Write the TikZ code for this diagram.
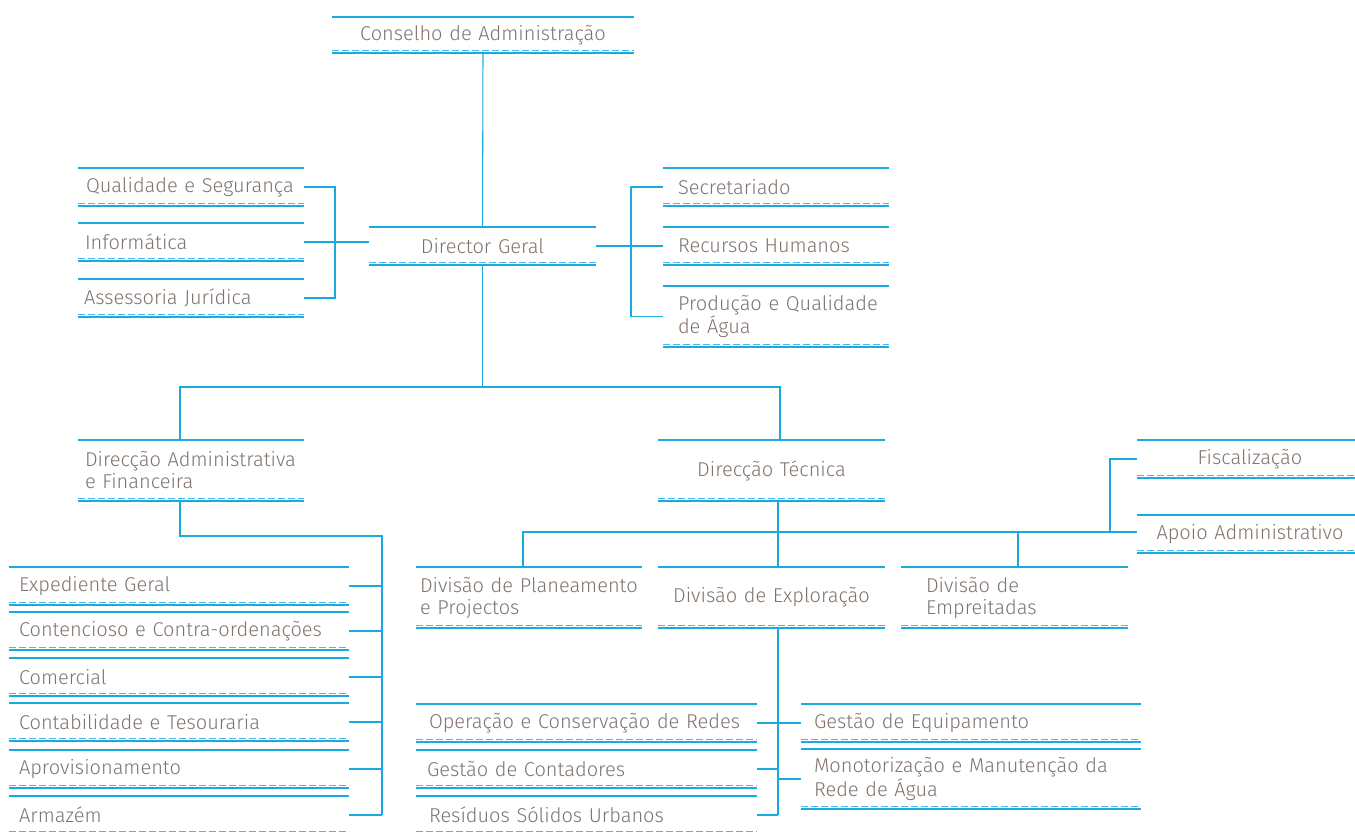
\documentclass[tikz,border=0pt]{standalone}
\usepackage{fontspec}
\setmainfont{Fira Sans}[UprightFont={* Light}]
\usetikzlibrary{positioning,calc}

\newdimen\px \px=0.75pt
\definecolor{cyanline}{RGB}{27,169,225}
\definecolor{dashline}{RGB}{70,185,232}
\definecolor{greytext}{RGB}{128,115,107}

\tikzset{
	rule/.style={draw=cyanline, line width=1pt},
	link/.style={draw=cyanline, line width=0.8pt},
	trunk/.style={draw=cyanline, line width=1.3pt},
	box/.style={anchor=north west, outer sep=0pt, inner ysep=0pt, minimum height=38\px,
		text=greytext, font=\fontsize{15}{16.5}\selectfont,
		append after command={
			(\tikzlastnode.north west) edge[rule] (\tikzlastnode.north east)
			([yshift=2.5\px]\tikzlastnode.south west) edge[rule, draw=dashline, dash pattern=on 5pt off 2.5pt] ([yshift=2.5\px]\tikzlastnode.south east)
			(\tikzlastnode.south west) edge[rule] (\tikzlastnode.south east)}},
	lbox/.style 2 args={box, align=left, inner xsep=#2\px, text width=\dimexpr#1\px-#2\px-#2\px\relax},
	cbox/.style={box, align=center, inner xsep=0pt, text width=#1\px},
	tall/.style={minimum height=61\px}
}

\begin{document}
\begin{tikzpicture}[x=0.75pt, y=-0.75pt]
	\useasboundingbox (0,0) rectangle (1355,831);

	\node[cbox=302, minimum height=36\px] (cons) at (332,17) {Conselho de Administração};
	\node[cbox=227] (dg) at (369,227) {Director Geral};

	\node[lbox={226}{8}] (qs) at (78,168) {Qualidade e Segurança};
	\node[lbox={226}{7}] (inf) at (78,223) {Informática};
	\node[lbox={226}{6}] (aj) at (78,279) {Assessoria Jurídica};

	\node[lbox={226}{15}] (sec) at (663,168) {Secretariado};
	\node[lbox={226}{15}] (rh) at (663,227) {Recursos Humanos};
	\node[lbox={226}{15}, tall] (pqa) at (663,286) {\mbox{Produção e Qualidade}\\de Água};

	\node[lbox={226}{7}, tall] (daf) at (78,440) {\mbox{Direcção Administrativa}\\e Financeira};
	\node[cbox=227, tall] (dt) at (658,440) {Direcção Técnica};

	\node[cbox=218] (fisc) at (1137,440) {\hspace*{8\px}Fiscalização};
	\node[cbox=218] (aa) at (1137,515) {\hspace*{8\px}Apoio Administrativo};

	\node[lbox={226}{4}, tall] (dpp) at (416,567) {\mbox{Divisão de Planeamento}\\e Projectos};
	\node[cbox=227, tall] (dex) at (658,567) {Divisão de Exploração};
	\node[lbox={227}{25}, tall] (dem) at (901,567) {Divisão de\\Empreitadas};

	\node[lbox={340}{10}] (eg) at (9,567) {Expediente Geral};
	\node[lbox={340}{10}] (cco) at (9,612) {Contencioso e Contra-ordenações};
	\node[lbox={340}{10}] (com) at (9,658) {Comercial};
	\node[lbox={340}{10}] (ct) at (9,703) {Contabilidade e Tesouraria};
	\node[lbox={340}{10}] (apr) at (9,750) {Aprovisionamento};
	\node[lbox={340}{10}] (arm) at (9,796) {Armazém};

	\node[lbox={341}{13}] (ocr) at (416,704) {Operação e Conservação de Redes};
	\node[lbox={341}{11}] (gc) at (416,750) {Gestão de Contadores};
	\node[lbox={341}{13}] (rsu) at (416,796) {Resíduos Sólidos Urbanos};
	\node[lbox={340}{13}] (ge) at (801,704) {Gestão de Equipamento};
	\node[lbox={340}{13}, minimum height=60\px] (mm) at (801,749) {\mbox{Monotorização e Manutenção da}\\Rede de Água};

	\coordinate (lbus) at (335,242);
	\coordinate (rbus) at (631,246);
	\coordinate (hubl) at (180,387);
	\coordinate (hubr) at (780,387);
	\coordinate (afbus) at (382,536);
	\coordinate (tbus) at (778,532);
	\coordinate (pbus) at (523,532);
	\coordinate (ebus) at (1018,532);
	\coordinate (fbus) at (1110,532);
	\coordinate (xbus) at (778,815);

	\draw [link] (cons.south) to (dg.north);
	\draw [link] (qs.east) -| (lbus) |- (aj.east);
	\draw [link] (inf.east) to (inf.east -| dg.west);
	\draw [link] (sec.west) -| (rbus) |- (pqa.west);
	\draw [link] (dg.east) to (rh.west);

	\draw [link] (dg.south) to (dg.south |- hubl);
	\draw [link] (hubl |- daf.north) |- (hubr) -- (hubr |- dt.north);

	\draw [trunk] (hubl |- daf.south) |- (afbus) -- (afbus |- arm.east);
	\draw [link] (eg.east) to (eg.east -| afbus);
	\draw [link] (cco.east) to (cco.east -| afbus);
	\draw [link] (com.east) to (com.east -| afbus);
	\draw [link] (ct.east) to (ct.east -| afbus);
	\draw [link] (apr.east) to (apr.east -| afbus);
	\draw [link] (arm.east) to (arm.east -| afbus);

	\draw [trunk] (tbus |- dt.south) to (tbus);
	\draw [link] (pbus |- dpp.north) |- (aa.west |- tbus);
	\draw [link] (tbus) to (tbus |- dex.north);
	\draw [link] (ebus) to (ebus |- dem.north);
	\draw [link] (fisc.west) -| (fbus);

	\draw [trunk] (xbus |- dex.south) to (xbus);
	\draw [link] (ocr.east) to (ge.west);
	\draw [link] (gc.east) to (gc.east -| xbus);
	\draw [link] (rsu.east) to (xbus);
	\draw [link] (mm.west) to (mm.west -| xbus);
\end{tikzpicture}
\end{document}
